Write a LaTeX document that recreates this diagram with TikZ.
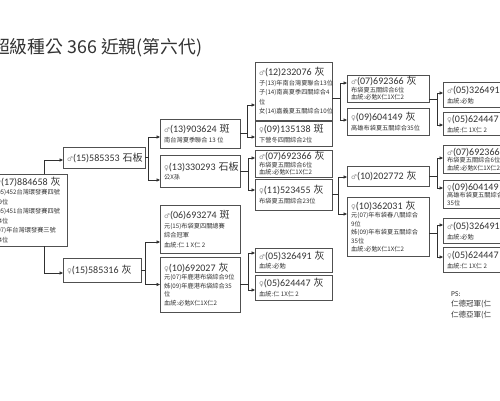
\documentclass[tikz,border=0pt]{standalone}
\usepackage{fontspec}
\setmainfont{Carlito}
\newfontfamily\cjk{Noto Sans CJK TC}
\newfontfamily\symf{DejaVu Sans}
\usetikzlibrary{arrows.meta}
\definecolor{boxc}{HTML}{505050}
\definecolor{linec}{HTML}{303030}
\definecolor{txtc}{HTML}{333333}
\definecolor{symc}{HTML}{8A8A8A}
\newcommand\ttl[3]{{\fontsize{10}{11}\selectfont{\symf\fontsize{6.5}{8}\selectfont\color{symc}#1}\rmfamily #2\hspace{3pt}{\cjk #3}}}
\tikzset{
  box/.style={draw=boxc, line width=0.6pt, anchor=north west, inner sep=0pt, outer sep=0pt, fill=white},
  txt/.style={anchor=west, inner sep=0pt, align=left, text=txtc, font=\cjk\fontsize{6.2}{9.5}\selectfont},
  conn/.style={draw=linec, line width=0.6pt, -{Triangle[length=3.5pt,width=3.2pt]}}
}
\newcommand\bx[6]{%
  \node[box, minimum width=#4pt, minimum height=#5pt] (#1) at (#2,#3) {};
  \node[txt] (#1t) at ([xshift=4pt]#1.west) {#6};}
\begin{document}
\begin{tikzpicture}[x=1pt,y=-1pt]
\useasboundingbox (0,0) rectangle (500,400);
\fill[white] (0,0) rectangle (500,400);
\node[anchor=west, inner sep=0pt, text=txtc, font=\cjk\fontsize{17.8}{20}\selectfont] (T) at (-8,48) {超級種公 366 近親(第六代)};
% root
\node[box, minimum width=87pt, minimum height=72pt] (R) at (-20,174) {};
\node[txt] (Rt) at ([xshift=15pt]R.west) {\ttl{♂}{(17)884658}{灰}\\(05)452台灣環發賽四號\\39位\\(05)451台灣環發賽四號\\34位\\(07)年台灣環發賽三號\\14位};
% column 1
\bx{B2}{63}{147}{82}{21}{\ttl{♂}{(15)585353}{石板}}
\bx{B3}{63}{258}{78}{24}{\ttl{♀}{(15)585316}{灰}}
% column 2
\bx{B4}{160}{119}{80}{29}{\ttl{♂}{(13)903624}{斑}\\南台灣夏季聯合 13 位}
\bx{B5}{160}{155}{80}{32}{\ttl{♀}{(13)330293}{石板}\\公X孫}
\bx{B6}{160}{205}{80}{48}{\ttl{♂}{(06)693274}{斑}\\元(15)布袋夏四關總賽\\綜合冠軍\\血統:仁 1 X仁 2}
\bx{B7}{160}{257}{80}{55}{\ttl{♀}{(10)692027}{灰}\\[-1pt]元(07)年鹿港布袋綜合9位\\[-1pt]姊(09)年鹿港布袋綜合35\\[-1pt]位\\[-1pt]血統:必勉X仁1X仁2}
% column 3
\bx{B8}{255}{62}{77}{58}{\ttl{♂}{(12)232076}{灰}\\子(13)年南台灣夏聯合13位\\子(14)南高夏季四關綜合4\\位\\女(14)嘉義夏五關綜合10位}
\bx{B9}{255}{121}{77}{25}{\ttl{♀}{(09)135138}{斑}\\下營冬四關綜合2位}
\bx{B10}{255}{150}{77}{27}{\ttl{♂}{(07)692366}{灰}\\[-2pt]布袋夏五關綜合6位\\[-2pt]血統:必勉X仁1X仁2}
\bx{B11}{255}{179}{77}{31}{\ttl{♀}{(11)523455}{灰}\\布袋夏五關綜合23位}
\bx{B12}{255}{248}{77}{24}{\ttl{♂}{(05)326491}{灰}\\血統:必勉}
\bx{B13}{255}{275}{77}{25}{\ttl{♀}{(05)624447}{灰}\\血統:仁 1X仁 2}
% column 4
\bx{B14}{347}{75}{82}{27}{\ttl{♂}{(07)692366}{灰}\\[-2pt]布袋夏五關綜合6位\\[-2pt]血統:必勉X仁1X仁2}
\bx{B15}{347}{108}{82}{27}{\ttl{♀}{(09)604149}{灰}\\高雄布袋夏五關綜合35位}
\bx{B16}{347}{166}{82}{20}{\ttl{♂}{(10)202772}{灰}}
\bx{B17}{347}{197}{82}{59}{\ttl{♀}{(10)362031}{灰}\\[-1pt]元(07)年布袋春八關綜合\\[-1pt]9位\\[-1pt]姊(09)年布袋夏五關綜合\\[-1pt]35位\\[-1pt]血統:必勉X仁1X仁2}
% column 5
\bx{B18}{443}{82}{80}{25}{\ttl{♂}{(05)326491}{灰}\\血統:必勉}
\bx{B19}{443}{112}{80}{23}{\ttl{♀}{(05)624447}{灰}\\血統:仁 1X仁 2}
\bx{B20}{443}{145}{80}{28}{\ttl{♂}{(07)692366}{灰}\\[-2pt]布袋夏五關綜合6位\\[-2pt]血統:必勉X仁1X仁2}
\bx{B21}{443}{180}{80}{28}{\ttl{♀}{(09)604149}{灰}\\[-2pt]高雄布袋夏五關綜合\\[-2pt]35位}
\bx{B22}{443}{218}{80}{25}{\ttl{♂}{(05)326491}{灰}\\血統:必勉}
\bx{B23}{443}{247}{80}{25}{\ttl{♀}{(05)624447}{灰}\\血統:仁 1X仁 2}
% PS
\node[anchor=north west, inner sep=0pt, align=left, text=txtc, font=\cjk\fontsize{7.5}{10.5}\selectfont] (PS) at (451,291) {{\rmfamily PS:}\\仁德冠軍(仁\\仁德亞軍(仁};
% connectors
\draw[conn] ([xshift=20.5pt]R.north) |- ([yshift=-2.5pt]B2.west);
\draw[conn] ([xshift=20.5pt]R.south) |- ([yshift=-3pt]B3.west);
\draw[conn] (B2.east) -- ++(3,0) |- ([yshift=-3.5pt]B4.west);
\draw[conn] (B2.east) -- ++(3,0) |- ([yshift=-9pt]B5.west);
\draw[conn] (B3.east) -- ++(4,0) |- ([yshift=-13pt]B6.west);
\draw[conn] (B3.east) -- ++(4,0) |- (B7.west);
\draw[conn] (B4.east) -- ++(7,0) |- ([yshift=-14pt]B8.west);
\draw[conn] (B4.east) -- ++(7,0) |- ([yshift=-3.5pt]B9.west);
\draw[conn] (B5.east) -- ++(8,0) |- ([yshift=5.5pt]B10.west);
\draw[conn] (B5.east) -- ++(8,0) |- ([yshift=4.5pt]B11.west);
\draw[conn] (B7.east) -- ++(8,0) |- ([yshift=7pt]B12.west);
\draw[conn] (B7.east) -- ++(8,0) |- ([yshift=-2.5pt]B13.west);
\draw[conn] ([yshift=-7pt]B8.east) -- ++(8,0) |- ([yshift=5.5pt]B14.west);
\draw[conn] ([yshift=-7pt]B8.east) -- ++(8,0) |- ([yshift=1.5pt]B15.west);
\draw[conn] (B11.east) -- ++(6,0) |- ([yshift=-1pt]B16.west);
\draw[conn] (B11.east) -- ++(6,0) |- ([yshift=12.5pt]B17.west);
\draw[conn] ([yshift=-11pt]B14.east) -- ++(8,0) |- ([yshift=1.5pt]B18.west);
\draw[conn] ([yshift=-11pt]B14.east) -- ++(8,0) |- ([yshift=-1.5pt]B19.west);
\draw[conn] (B16.east) -- ++(8,0) |- ([yshift=1pt]B20.west);
\draw[conn] (B16.east) -- ++(8,0) |- ([yshift=6pt]B21.west);
\draw[conn] ([yshift=-6.5pt]B17.east) -- ++(8,0) |- ([yshift=5.5pt]B22.west);
\draw[conn] ([yshift=-6.5pt]B17.east) -- ++(8,0) |- ([yshift=2.5pt]B23.west);
\end{tikzpicture}
\end{document}
